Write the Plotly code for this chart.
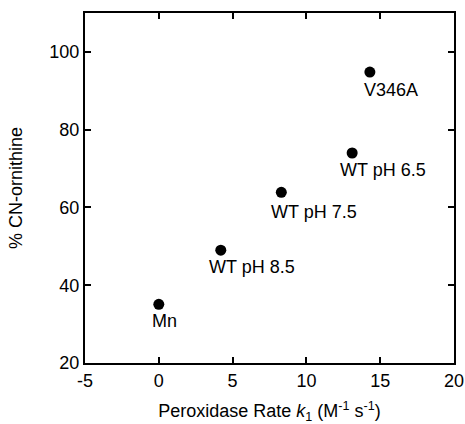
import plotly.graph_objects as go

labels = ["Mn", "WT pH 8.5", "WT pH 7.5", "WT pH 6.5", "V346A"]
rate = [0.0, 4.2, 8.3, 13.1, 14.3]
cn_orn = [35.1, 49.0, 63.9, 74.0, 94.8]
err = [0.0, 0.0, 0.0, 1.0, 0.0]
x_ticks = [-5, 0, 5, 10, 15, 20]
y_ticks = [20, 40, 60, 80, 100]

# label offsets (pixels) relative to each point
lab_dx = [-9, -14, -12, -14, -8]
lab_dy = [-17, -17, -20, -17, -18]

FONT = "Liberation Sans, Arial, Helvetica, sans-serif"
FS = 18

fig = go.Figure()
fig.add_trace(go.Scatter(
    x=rate, y=cn_orn, mode="markers",
    marker=dict(color="black", size=11),
    error_y=dict(type="data", array=err, color="black", thickness=1, width=3, visible=True),
    showlegend=False,
))

for x, y, t, dx, dy in zip(rate, cn_orn, labels, lab_dx, lab_dy):
    fig.add_annotation(x=x, y=y, text=t, showarrow=False, xanchor="left", yanchor="middle",
                       xshift=dx, yshift=dy, font=dict(family=FONT, size=FS, color="black"))

axis_common = dict(
    showline=True, linecolor="black", linewidth=2, mirror="ticks",
    ticks="inside", ticklen=6, tickwidth=1.5, tickcolor="black",
    showgrid=False, zeroline=False, automargin=False,
    tickfont=dict(family=FONT, size=FS, color="black"),
)

fig.update_xaxes(range=[-5, 20], tickvals=x_ticks, ticktext=[str(v) for v in x_ticks],
                 title=dict(text="Peroxidase Rate <i>k</i><sub>1</sub> (M<sup>-1</sup> s<sup>-1</sup>)",
                            font=dict(family=FONT, size=FS, color="black"), standoff=18),
                 **axis_common)
fig.update_yaxes(range=[20, 110], tickvals=y_ticks, ticktext=[str(v) for v in y_ticks],
                 title=dict(text="% CN-ornithine", font=dict(family=FONT, size=FS, color="black"), standoff=22),
                 **axis_common)

fig.update_layout(
    width=465, height=424,
    margin=dict(l=85, r=11, t=13, b=61),
    plot_bgcolor="white", paper_bgcolor="white",
)

fig.write_html("out.html")
